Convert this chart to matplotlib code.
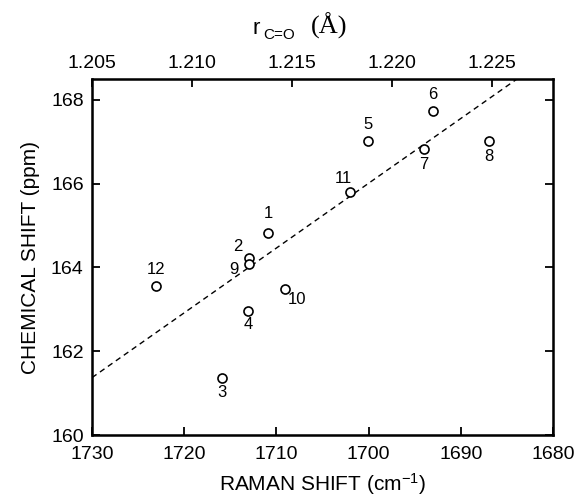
import matplotlib
matplotlib.use('Agg')
import matplotlib.pyplot as plt

plt.rcParams['font.family'] = ['Liberation Sans', 'DejaVu Sans']
plt.rcParams['mathtext.fontset'] = 'custom'
plt.rcParams['mathtext.rm'] = 'Liberation Sans'
plt.rcParams['mathtext.it'] = 'Liberation Sans'

# data
labels = ['1', '2', '3', '4', '5', '6', '7', '8', '9', '10', '11', '12']
raman = [1710.9, 1713.0, 1715.9, 1713.1, 1700.1, 1693.0,
         1694.0, 1686.9, 1713.0, 1709.1, 1702.0, 1723.1]
shift = [164.83, 164.23, 161.37, 162.96, 167.02, 167.74,
         166.83, 167.02, 164.09, 163.49, 165.80, 163.56]
# dashed correlation line (two points on it)
line_x = [1730, 1683.9]
line_y = [161.37, 168.5]

# where each number sits relative to its circle (points)
offsets = {'1': (0, 14), '2': (-8, 8), '3': (0, -11), '4': (0, -10),
           '5': (0, 12), '6': (0, 12), '7': (0, -11), '8': (0, -11),
           '9': (-11, -4), '10': (9, -8), '11': (-5, 10), '12': (0, 12)}

xticks = [1730, 1720, 1710, 1700, 1690, 1680]
yticks = [160, 162, 164, 166, 168]
rticks = [1.205, 1.210, 1.215, 1.220, 1.225]

fig = plt.figure(figsize=(5.76, 5.0), dpi=100)
ax = fig.add_axes([0.1597, 0.13, 0.8003, 0.712])

ax.plot(line_x, line_y, color='black', lw=1.0, linestyle=(0, (4, 3)))
ax.plot(raman, shift, 'o', mfc='white', mec='black', ms=6.5, mew=1.2)
for lab, x, y in zip(labels, raman, shift):
    ax.annotate(lab, (x, y), xytext=offsets[lab], textcoords='offset points',
                ha='center', va='center', fontsize=12)

ax.set_xlim(1730, 1680)
ax.set_ylim(160, 168.5)
ax.set_xticks(xticks)
ax.set_yticks(yticks)
ax.tick_params(direction='in', length=6, width=1.3, labelsize=14)
ax.tick_params(axis='x', pad=8)
ax.tick_params(axis='y', pad=6, right=True)
for s in ax.spines.values():
    s.set_linewidth(1.8)

ax.set_xlabel('RAMAN SHIFT (cm$^{-1}$)', fontsize=15, labelpad=6)
ax.set_ylabel('CHEMICAL SHIFT (ppm)', fontsize=15, labelpad=8)

# top axis: C=O bond length
top = ax.twiny()
top.set_xlim(1.205, 1.22805)
top.set_xticks(rticks)
top.set_xticklabels(['%.3f' % t for t in rticks])
top.tick_params(direction='in', length=6, width=1.3, labelsize=14, pad=5)

fig.text(253 / 576, 1 - 34 / 500, 'r', fontsize=16, ha='left', va='baseline')
fig.text(263 / 576, 1 - 39 / 500, 'C=O', fontsize=11, ha='left', va='baseline')
fig.text(311 / 576, 1 - 34 / 500, '(Å)', fontsize=19,
         family=['Liberation Serif', 'DejaVu Serif'], ha='left', va='baseline')

fig.savefig('out.png', dpi=100)
